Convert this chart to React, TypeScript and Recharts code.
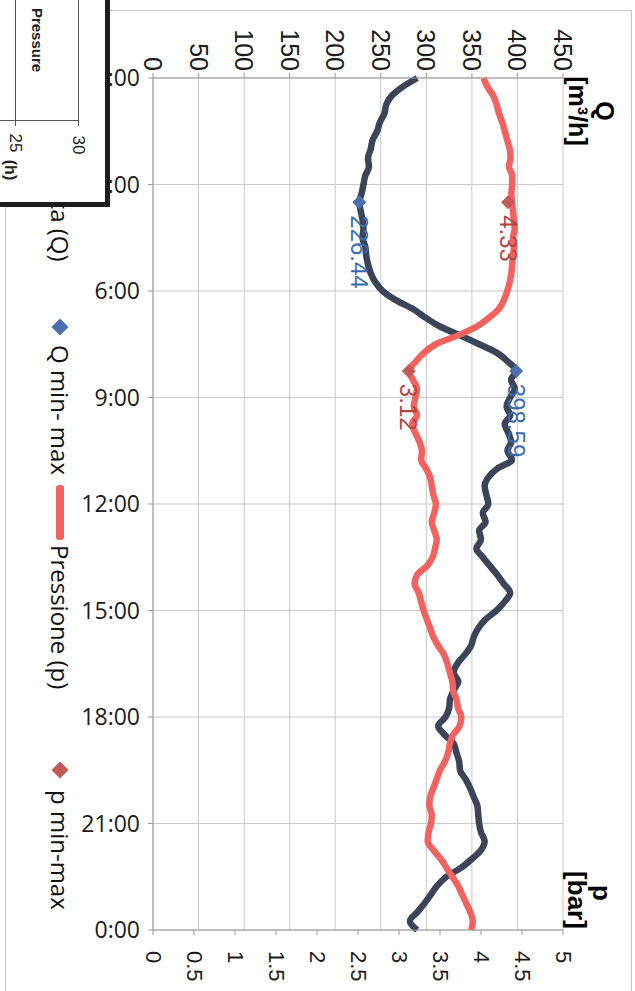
import React from 'react'
import { LineChart, Line, XAxis, YAxis, CartesianGrid } from 'recharts'

// readings every 15 minutes, 0:00 -> 24:00
const STEP_H = 0.25

const portataQ = [
  290, 274, 262, 256, 254, 249, 246, 241,
  239, 236, 237, 233, 231, 229, 226.44, 228,
  230, 231, 230, 233, 234, 236, 239, 244,
  252, 266, 285, 299, 315, 337, 358, 378,
  390, 398.59, 393, 397, 392, 388, 392, 386,
  390, 393, 389, 394, 378, 368, 364, 366,
  368, 362, 365, 358, 360, 355, 362, 370,
  378, 385, 392, 386, 377, 365, 357, 352,
  349, 342, 334, 330, 335, 330, 326, 325,
  321, 313, 320, 330, 333, 336, 337, 343,
  348, 352, 356, 357, 358, 360, 364, 360,
  350, 338, 322, 312, 305, 298, 290, 282,
  290,
]

const pressioneP = [
  4.03, 4.08, 4.15, 4.19, 4.22, 4.26, 4.29, 4.32,
  4.35, 4.36, 4.34, 4.38, 4.38, 4.37, 4.38, 4.39,
  4.4, 4.41, 4.39, 4.4, 4.39, 4.38, 4.37, 4.35,
  4.32, 4.28, 4.22, 4.1, 3.95, 3.72, 3.45, 3.3,
  3.2, 3.12, 3.17, 3.22, 3.2, 3.18, 3.22, 3.16,
  3.2, 3.25, 3.28, 3.27, 3.33, 3.38, 3.4, 3.42,
  3.45, 3.43, 3.4, 3.43, 3.46, 3.44, 3.41, 3.34,
  3.22, 3.19, 3.24, 3.27, 3.3, 3.34, 3.38, 3.42,
  3.48, 3.55, 3.59, 3.62, 3.65, 3.66, 3.7, 3.72,
  3.76, 3.74, 3.66, 3.62, 3.6, 3.56, 3.5, 3.46,
  3.42, 3.38, 3.37, 3.4, 3.39, 3.36, 3.35, 3.42,
  3.51, 3.58, 3.65, 3.72, 3.77, 3.82, 3.87, 3.9,
  3.88,
]

const qMinMax = [
  { t: 3.5, v: 226.44 },
  { t: 8.25, v: 398.59 },
]
const pMinMax = [
  { t: 3.5, v: 4.33 },
  { t: 8.25, v: 3.12 },
]

const hourTicks = [0, 3, 6, 9, 12, 15, 18, 21, 24]
const qTicks = [0, 50, 100, 150, 200, 250, 300, 350, 400, 450]
const pTicks = [0, 0.5, 1, 1.5, 2, 2.5, 3, 3.5, 4, 4.5, 5]

const rows = portataQ.map((q, i) => ({ t: i * STEP_H, q, p: pressioneP[i] }))

const Q_COLOR = '#3c4457'
const P_COLOR = '#f26360'
const Q_MARK = '#4a70b0'
const P_MARK = '#c45a57'
const SANS = '"Liberation Sans", Arial, sans-serif'
const OPEN = '"Open Sans", sans-serif'

const QTick = (props: any) => {
  const { x, y, payload } = props
  return (
    <text x={x} y={y} transform={`rotate(90 ${x} ${y})`} textAnchor="end" dominantBaseline="central"
      fontSize={25} fontFamily={SANS} fill="#1c1c1c">
      {payload.value}
    </text>
  )
}

const PTick = (props: any) => {
  const { x, y, payload } = props
  return (
    <text x={x} y={y} transform={`rotate(90 ${x} ${y})`} textAnchor="start" dominantBaseline="central"
      fontSize={22} fontFamily={SANS} fill="#1c1c1c">
      {payload.value}
    </text>
  )
}

const diamondDot = (color: string) => (props: any) => {
  const { cx, cy, index } = props
  if (cx == null || cy == null) return <g key={index} />
  const r = 7
  return <path key={index} d={`M${cx},${cy - r}L${cx + r},${cy}L${cx},${cy + r}L${cx - r},${cy}Z`} fill={color} />
}

const markLabel = (color: string) => (props: any) => {
  const { x, y, value, index } = props
  if (x == null || y == null) return <g key={index} />
  const ly = y + 13
  return (
    <text key={index} x={x} y={ly} transform={`rotate(90 ${x} ${ly})`} textAnchor="start" dominantBaseline="central"
      fontSize={24} fontFamily={SANS} fill={color}>
      {value}
    </text>
  )
}

const rot = (left: number, top: number, extra: React.CSSProperties = {}): React.CSSProperties => ({
  position: 'absolute',
  left,
  top,
  transform: 'translate(-50%, -50%) rotate(90deg)',
  whiteSpace: 'nowrap',
  lineHeight: 1,
  ...extra,
})

function Legend() {
  const text: React.CSSProperties = {
    position: 'absolute', top: 0, lineHeight: '34px', fontSize: 24, fontFamily: OPEN, color: '#111', whiteSpace: 'nowrap',
  }
  const diamond = (u: number, color: string): React.CSSProperties => ({
    position: 'absolute', left: u - 6, top: 11, width: 12, height: 12, background: color, transform: 'rotate(45deg)',
  })
  const bar = (u: number, w: number, color: string): React.CSSProperties => ({
    position: 'absolute', left: u, top: 13, width: w, height: 8, background: color, borderRadius: 3,
  })
  return (
    <div style={{ position: 'absolute', left: 77, top: 100, width: 820, height: 34, transform: 'rotate(90deg)', transformOrigin: '0 0' }}>
      <div style={bar(0, 35, Q_COLOR)} />
      <div style={{ ...text, left: 40 }}>Portata (Q)</div>
      <div style={diamond(227, Q_MARK)} />
      <div style={{ ...text, left: 245 }}>Q min- max</div>
      <div style={bar(385, 55, P_COLOR)} />
      <div style={{ ...text, left: 445 }}>Pressione (p)</div>
      <div style={diamond(670, P_MARK)} />
      <div style={{ ...text, left: 690 }}>p min-max</div>
    </div>
  )
}

function Inset() {
  const ln = (s: React.CSSProperties): React.CSSProperties => ({ position: 'absolute', background: '#555', ...s })
  return (
    <div style={{
      position: 'absolute', left: 0, top: 0, width: 105, height: 202, background: '#fff',
      borderRight: '5px solid #1e1e1e', borderBottom: '5px solid #1e1e1e', overflow: 'hidden',
    }}>
      <div style={ln({ left: 15, top: 0, width: 1, height: 126 })} />
      <div style={ln({ left: 78, top: 0, width: 1, height: 126 })} />
      <div style={ln({ left: 0, top: 120, width: 79, height: 1 })} />
      <div style={rot(37, 40, { fontSize: 15, fontWeight: 700, fontFamily: SANS, color: '#222' })}>Pressure</div>
      <div style={rot(15, 143, { fontSize: 17, fontFamily: SANS, color: '#222' })}>25</div>
      <div style={rot(78, 145, { fontSize: 17, fontFamily: SANS, color: '#222' })}>30</div>
      <div style={rot(10, 170, { fontSize: 16, fontWeight: 700, fontFamily: SANS, color: '#222' })}>(h)</div>
    </div>
  )
}

export default function App() {
  return (
    <div style={{ position: 'absolute', left: 0, top: 0, width: 635, height: 991, background: '#fff', overflow: 'hidden' }}>
      <div style={{ position: 'absolute', left: 5, top: 10, width: 625, height: 1000, border: '1px solid #c4c4c4' }} />
      <div style={{ position: 'absolute', left: 0, top: 0 }}>
        <LineChart width={635} height={991} data={rows} layout="vertical"
          margin={{ top: 28, right: 72, bottom: 11, left: 90 }}>
          <CartesianGrid xAxisId="q" stroke="#c9c9c9" />
          <XAxis xAxisId="q" type="number" orientation="top" domain={[0, 450]} ticks={qTicks} height={50}
            tick={<QTick />} tickSize={5} tickMargin={2} stroke="#999" />
          <XAxis xAxisId="p" type="number" orientation="bottom" domain={[0, 5]} ticks={pTicks} height={50}
            tick={<PTick />} tickSize={5} tickMargin={16} stroke="#999" />
          <YAxis type="number" dataKey="t" domain={[0, 24]} ticks={hourTicks} width={63} tickSize={5} tickMargin={8}
            tickFormatter={(h: number) => `${h % 24}:00`} stroke="#999"
            tick={{ fill: '#1c1c1c', fontSize: 23, fontFamily: OPEN }} />
          <Line xAxisId="q" dataKey="q" type="monotone" stroke={Q_COLOR} strokeWidth={6.5} dot={false}
            isAnimationActive={false} />
          <Line xAxisId="p" dataKey="p" type="monotone" stroke={P_COLOR} strokeWidth={6.5} dot={false}
            isAnimationActive={false} />
          <Line xAxisId="q" data={qMinMax} dataKey="v" stroke="none" dot={diamondDot(Q_MARK)}
            label={markLabel('#3b6cb0')} isAnimationActive={false} />
          <Line xAxisId="p" data={pMinMax} dataKey="v" stroke="none" dot={diamondDot(P_MARK)}
            label={markLabel('#b5443f')} isAnimationActive={false} />
        </LineChart>
      </div>
      <div style={rot(604, 111, { fontSize: 25, fontWeight: 700, fontFamily: SANS })}>Q</div>
      <div style={rot(577, 111, { fontSize: 25, fontWeight: 700, fontFamily: SANS })}>[m³/h]</div>
      <div style={rot(602, 893, { fontSize: 26, fontWeight: 700, fontFamily: SANS })}>p</div>
      <div style={rot(577, 900, { fontSize: 26, fontWeight: 700, fontFamily: SANS })}>[bar]</div>
      <Legend />
      <Inset />
    </div>
  )
}
